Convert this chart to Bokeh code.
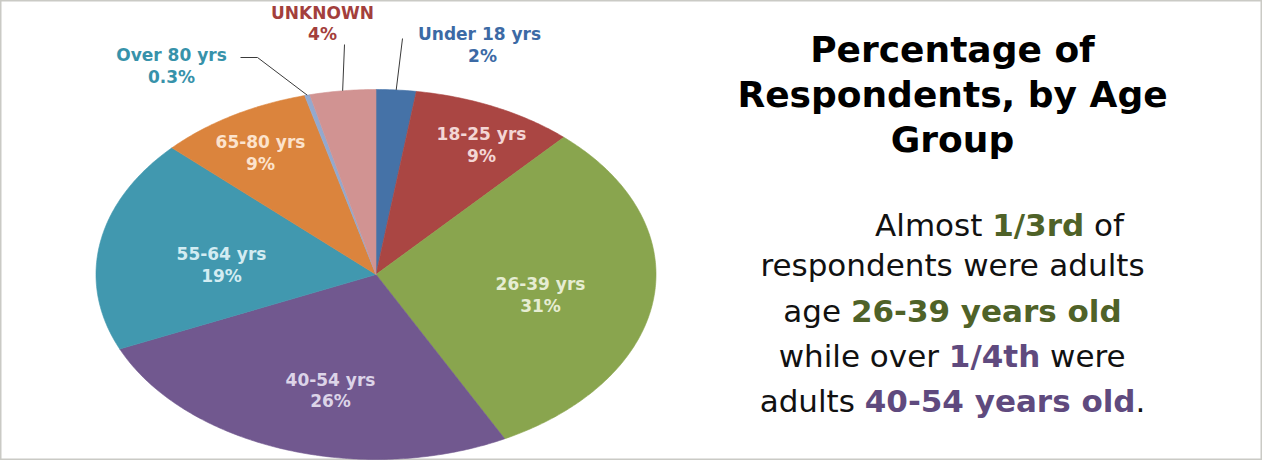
import numpy as np
from bokeh.plotting import figure
from bokeh.models import Range1d, ColumnDataSource
from bokeh.core.properties import value
from bokeh.embed import file_html
from bokeh.resources import INLINE

# ---------------- data ----------------
groups = ["Under 18  yrs", "18-25 yrs", "26-39 yrs", "40-54 yrs",
          "55-64 yrs", "65-80 yrs", "Over 80 yrs", "UNKNOWN"]
shares = [2.3, 9.4, 30.7, 26.0, 18.6, 8.9, 0.3, 3.8]
pct_labels = ["2%", "9%", "31%", "26%", "19%", "9%", "0.3%", "4%"]
slice_colors = ["#4572A7", "#AA4643", "#89A54E", "#71588F",
                "#4198AF", "#DB843D", "#93A9CF", "#D19392"]

title_lines = ["Percentage of", "Respondents, by Age", "Group"]

body_lines = [
    [("Almost", "n"), ("1/3rd", "g"), ("of", "n")],
    [("respondents", "n"), ("were", "n"), ("adults", "n")],
    [("age", "n"), ("26-39 years old", "g")],
    [("while", "n"), ("over", "n"), ("1/4th", "p"), ("were", "n")],
    [("adults", "n"), ("40-54 years old", "p"), (".", "n", "nospace")],
]

# ---------------- layout / style ----------------
FONT = value("DejaVu Sans")
cx, cy, rx, ry = 383.5, 282.0, 280.0, 185.0

# label placement (x, y of line 1, y of line 2), colour
label_layout = {
    "Under 18  yrs": (490, 41, 63, "#3C6AA5"),
    "18-25 yrs": (489, 141, 163, "#F3D6D5"),
    "26-39 yrs": (548, 291, 313, "#E6EDD3"),
    "40-54 yrs": (338, 387, 408, "#DCD4E8"),
    "55-64 yrs": (229, 261, 283, "#D3ECF2"),
    "65-80 yrs": (268, 149, 171, "#FCE3CD"),
    "Over 80 yrs": (179, 62, 84, "#3792AA"),
    "UNKNOWN": (330, 20, 41, "#A33F3C"),
}
# leader line end points (outside labels)
leader_ends = {
    "Under 18  yrs": [(410, 46)],
    "UNKNOWN": [(352, 52)],
    "Over 80 yrs": [(265, 65), (248, 65)],
}

style_colors = {"n": "#111111", "g": "#4F6228", "p": "#5F4A7E"}

REG_W = {' ': .318, '.': .318, '/': .337, '-': .361, 'A': .684, 'a': .613,
         'b': .635, 'd': .635, 'e': .615, 'f': .352, 'g': .635, 'h': .634,
         'i': .278, 'l': .278, 'm': .974, 'n': .634, 'o': .612, 'p': .635,
         'r': .411, 's': .521, 't': .392, 'u': .634, 'v': .592, 'w': .818,
         'y': .592}
BOLD_W = {' ': .348, '.': .380, '/': .365, '-': .415, 'a': .675, 'd': .716,
          'e': .678, 'h': .712, 'l': .343, 'o': .687, 'r': .493, 's': .595,
          't': .478, 'y': .652}
for dgt in "0123456789":
    REG_W[dgt] = .636
    BOLD_W[dgt] = .696


def est_width(s, bold, size):
    tbl = BOLD_W if bold else REG_W
    return sum(tbl.get(ch, 0.62) for ch in s) * size


# ---------------- figure ----------------
p = figure(width=1262, height=460, output_backend="svg", toolbar_location=None,
           tools="", x_range=Range1d(8, 1270), y_range=Range1d(468, 8),
           x_axis_location=None, y_axis_location=None, min_border=0)
p.xgrid.visible = False
p.ygrid.visible = False
p.background_fill_color = "white"
p.border_fill_color = "white"
p.outline_line_color = "#CACAC5"
p.outline_line_width = 2

# pie slices (elliptical, drawn from cumulative shares)
total = float(sum(shares))
cum = np.concatenate([[0.0], np.cumsum(shares)]) / total * 2 * np.pi
xs, ys = [], []
for a0, a1 in zip(cum[:-1], cum[1:]):
    t = np.linspace(a0, a1, max(4, int((a1 - a0) / (2 * np.pi) * 600)))
    xs.append([cx] + list(cx + rx * np.sin(t)))
    ys.append([cy] + list(cy - ry * np.cos(t)))
src = ColumnDataSource(dict(xs=xs, ys=ys, color=slice_colors, group=groups))
p.patches("xs", "ys", source=src, fill_color="color", line_color="color",
          line_width=0.6)

# leader lines from slice mid-angle on the rim
mid = (cum[:-1] + cum[1:]) / 2
for i, g in enumerate(groups):
    if g in leader_ends:
        px = [cx + rx * np.sin(mid[i])] + [e[0] for e in leader_ends[g]]
        py = [cy - ry * np.cos(mid[i])] + [e[1] for e in leader_ends[g]]
        p.line(px, py, line_color="#3A3A3A", line_width=1)

# slice labels
for g, pl in zip(groups, pct_labels):
    x, y1, y2, col = label_layout[g]
    p.text(x=[x, x], y=[y1, y2], text=[g, pl], text_font=FONT,
           text_font_style="bold", text_font_size="17px", text_color=col,
           text_align="center", text_baseline="middle")

# title
title_baselines = [57, 102, 147]
p.text(x=[960] * 3, y=title_baselines, text=title_lines, text_font=FONT,
       text_font_style="bold", text_font_size="36px", text_color="#000000",
       text_align="center", text_baseline="alphabetic")

# body text, mixed styles
body_size = 31
body_baselines = [232.7, 272.7, 318, 363, 408]
body_centers = [1007, 960, 960, 960, 960]
seg = {k: dict(x=[], y=[], text=[]) for k in [("n", False), ("g", True), ("p", True)]}
for line, yb, xc in zip(body_lines, body_baselines, body_centers):
    widths = []
    gaps = []
    for j, item in enumerate(line):
        word, sty = item[0], item[1]
        widths.append(est_width(word, sty != "n", body_size))
        if j > 0:
            gaps.append(0 if len(item) > 2 else REG_W[' '] * body_size)
    total_w = sum(widths) + sum(gaps)
    x = xc - total_w / 2
    for j, item in enumerate(line):
        word, sty = item[0], item[1]
        if j > 0:
            x += gaps[j - 1]
        key = (sty, sty != "n")
        seg[key]["x"].append(x)
        seg[key]["y"].append(yb)
        seg[key]["text"].append(word)
        x += widths[j]
for (sty, bold), d in seg.items():
    p.text(x=d["x"], y=d["y"], text=d["text"], text_font=FONT,
           text_font_style="bold" if bold else "normal",
           text_font_size=f"{body_size}px", text_color=style_colors[sty],
           text_align="left", text_baseline="alphabetic")

open("out.html", "w").write(file_html(p, INLINE))
